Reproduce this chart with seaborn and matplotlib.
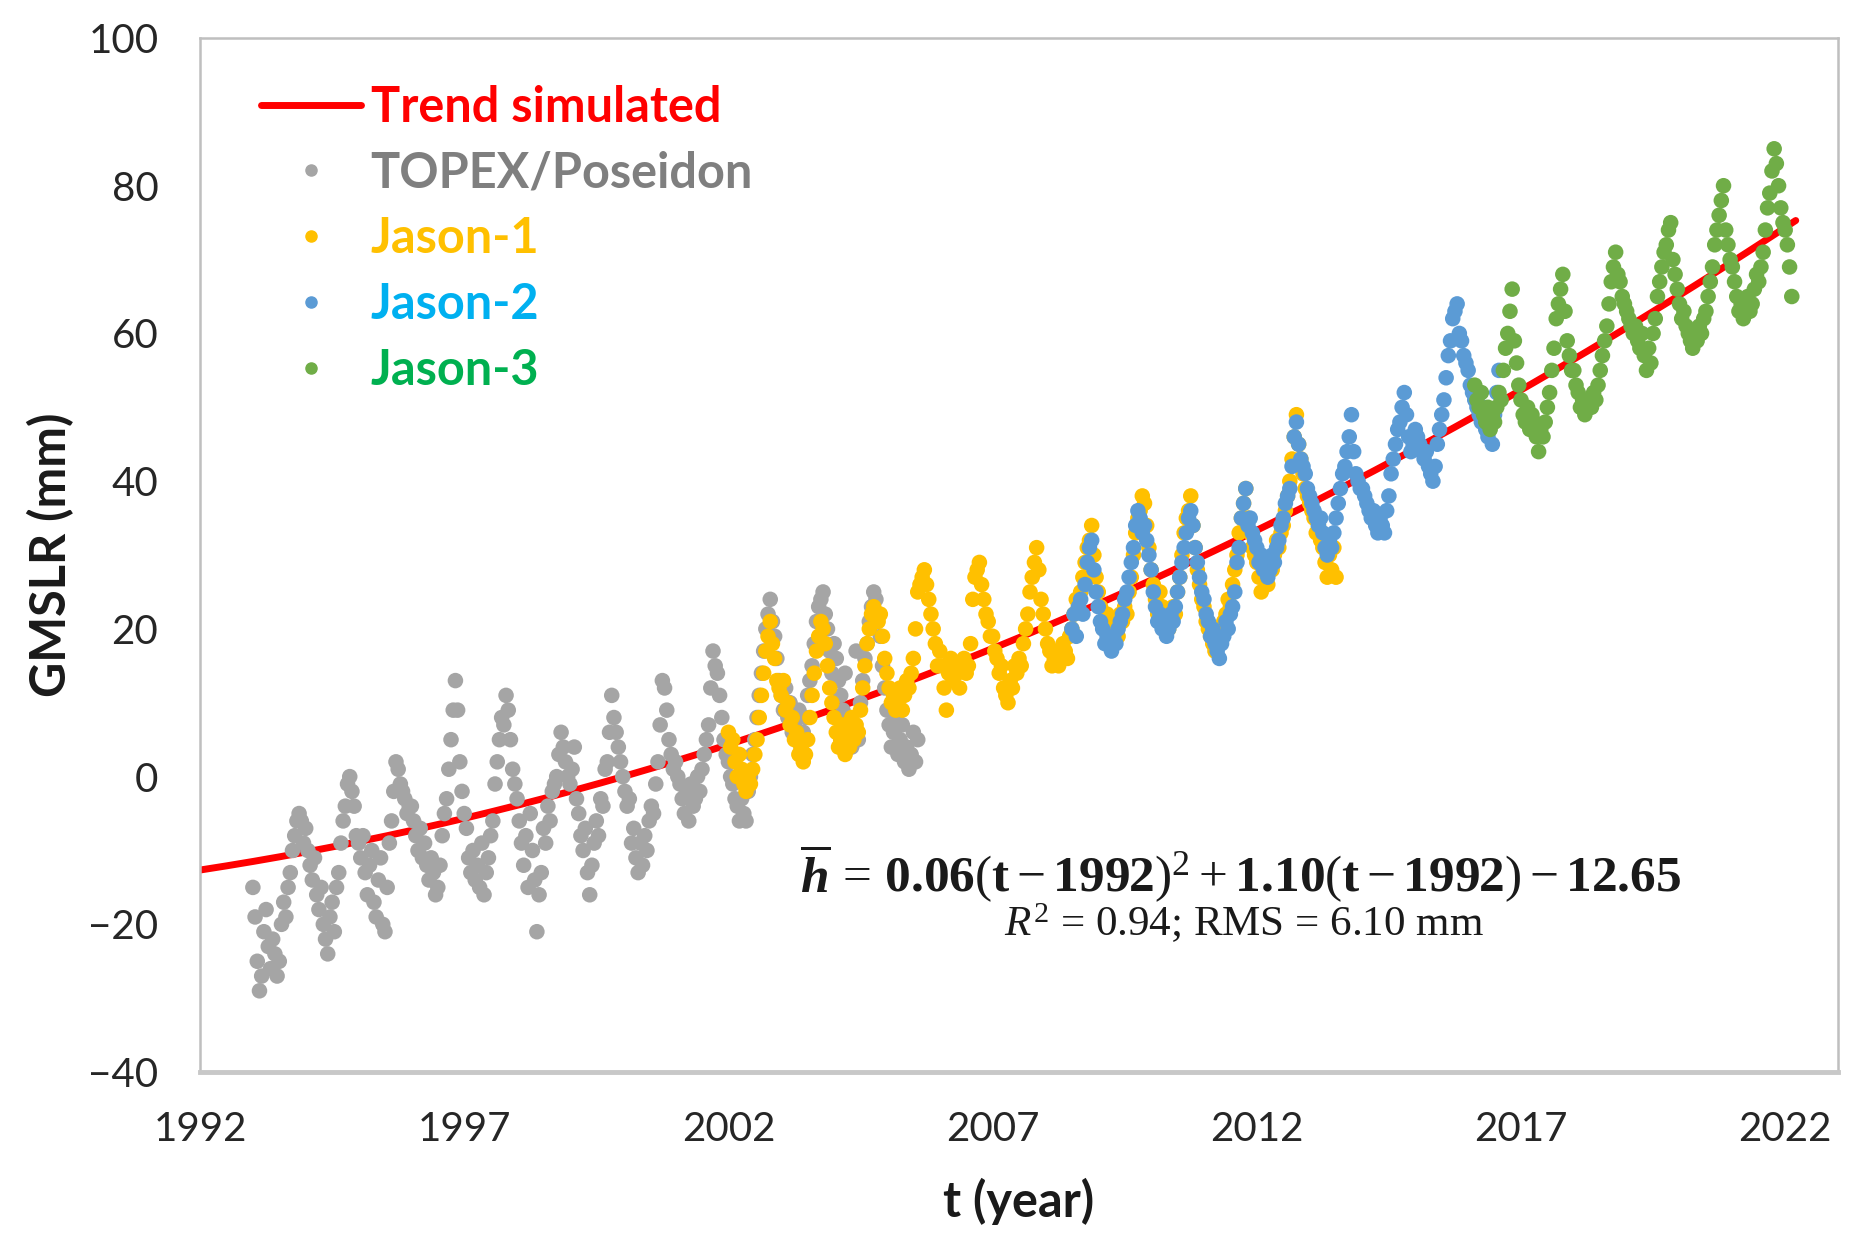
import numpy as np
import pandas as pd
import seaborn as sns
import matplotlib.pyplot as plt
from matplotlib.lines import Line2D

# GMSLR values in mm, one value every half month
topex_start = 1993.0
topex = [
    -15, -19, -25, -29, -27, -21, -18, -23, -26, -22, -24, -27, -25, -20, -17, -19, -15, -13, -10, -8, -6, -5, -6, -9,  # 1993
    -7, -10, -12, -14, -11, -16, -18, -15, -20, -22, -24, -19, -17, -21, -15, -13, -9, -6, -4, -1, 0, -2, -4, -8,  # 1994
    -9, -11, -8, -13, -16, -12, -10, -17, -19, -14, -11, -20, -21, -15, -9, -6, -2, 2, 1, -1, -2, -3, -5, -4,  # 1995
    -4, -6, -8, -10, -7, -11, -9, -12, -14, -11, -13, -16, -15, -12, -8, -5, -3, 1, 5, 9, 13, 9, 2, -2,  # 1996
    -5, -7, -11, -13, -10, -14, -12, -15, -9, -16, -13, -11, -8, -6, -1, 2, 5, 8, 7, 11, 9, 5, 1, -1,  # 1997
    -3, -6, -9, -12, -8, -15, -5, -10, -14, -21, -16, -13, -7, -9, -4, -6, -2, -1, 0, 3, 6, 4, 2, 0,  # 1998
    -1, 1, 4, -3, -5, -8, -10, -7, -13, -16, -12, -9, -6, -8, -3, -4, 1, 2, 6, 11, 8, 6, 4, 2,  # 1999
    0, -2, -4, -3, -9, -7, -11, -13, -9, -12, -8, -10, -6, -4, -5, -1, 2, 7, 13, 12, 9, 5, 3, 1,  # 2000
    2, 0, -1, -3, -5, -2, -6, -1, -4, -3, 0, -2, 1, 3, 5, 7, 12, 17, 15, 14, 11, 8, 5, 3,  # 2001
    2, 0, -1, -3, -4, -6, -3, -5, -6, -2, 0, 3, 5, 8, 11, 14, 17, 20, 22, 24, 21, 19, 16, 13,  # 2002
    11, 9, 12, 8, 10, 6, 7, 5, 9, 4, 6, 8, 11, 13, 15, 18, 21, 23, 24, 25, 22, 20, 17, 14,  # 2003
    18, 16, 13, 11, 9, 14, 6, 8, 4, 7, 17, 5, 10, 13, 16, 18, 21, 23, 25, 24, 22, 19, 15, 12,  # 2004
    9, 7, 4, 6, 8, 3, 5, 7, 2, 4, 1, 3, 6, 2, 5,  # 2005
]
jason1_start = 2002.0
jason1 = [
    6, 4, 5, 2, 0, 3, 1, -1, -2, 0, -1, 1, 3, 5, 8, 11, 14, 17, 19, 21, 18, 16, 13, 12,  # 2002
    11, 13, 9, 10, 7, 8, 5, 6, 3, 4, 2, 3, 5, 8, 11, 14, 17, 19, 21, 20, 18, 15, 12, 10,  # 2003
    8, 6, 4, 5, 7, 3, 6, 4, 8, 5, 7, 6, 9, 12, 15, 18, 20, 22, 23, 22, 21, 22, 19, 16,  # 2004
    14, 12, 10, 11, 9, 10, 12, 9, 11, 13, 12, 14, 16, 20, 25, 26, 27, 28, 26, 24, 22, 20, 18, 15,  # 2005
    17, 15, 12, 9, 14, 16, 13, 15, 14, 12, 15, 16, 14, 15, 18, 24, 27, 28, 29, 26, 24, 22, 21, 19,  # 2006
    19, 17, 16, 14, 15, 12, 11, 10, 13, 12, 15, 14, 16, 15, 18, 20, 22, 25, 27, 29, 31, 28, 24, 22,  # 2007
    20, 18, 17, 15, 16, 17, 15, 16, 18, 17, 16, 19, 20, 22, 24, 23, 25, 27, 29, 31, 32, 34, 30, 27,  # 2008
    25, 23, 21, 20, 22, 19, 18, 21, 20, 19, 22, 21, 23, 22, 25, 27, 30, 33, 35, 36, 38, 37, 34, 31,  # 2009
    28, 26, 24, 22, 25, 23, 21, 22, 20, 21, 23, 22, 25, 27, 30, 33, 35, 36, 38, 34, 31, 28, 26, 24,  # 2010
    23, 21, 20, 19, 18, 17, 19, 18, 20, 21, 22, 24, 23, 26, 28, 30, 33, 35, 37, 39, 35, 33, 31, 30,  # 2011
    29, 27, 25, 27, 28, 26, 29, 28, 30, 32, 31, 33, 34, 36, 38, 40, 43, 46, 49, 45, 43, 41, 39, 38,  # 2012
    37, 36, 35, 33, 34, 32, 31, 29, 27, 30, 28, 31, 27,  # 2013
]
jason2_start = 2008.5
jason2 = [
    20, 22, 19, 23, 24, 22, 26, 29, 31, 32, 28, 25,  # 2008
    23, 21, 20, 18, 19, 18, 17, 19, 18, 20, 21, 22, 24, 25, 27, 29, 31, 34, 36, 35, 33, 34, 32, 30,  # 2009
    28, 25, 23, 21, 22, 20, 21, 19, 20, 22, 21, 23, 25, 27, 29, 31, 33, 35, 36, 34, 31, 29, 27, 25,  # 2010
    24, 22, 21, 19, 20, 18, 17, 16, 18, 19, 21, 20, 22, 23, 25, 29, 31, 35, 37, 39, 34, 35, 33, 32,  # 2011
    31, 29, 30, 28, 29, 27, 28, 30, 29, 31, 32, 34, 35, 37, 38, 39, 42, 46, 48, 45, 43, 42, 41, 39,  # 2012
    38, 37, 36, 35, 34, 35, 33, 31, 30, 32, 31, 33, 35, 37, 39, 41, 42, 44, 46, 49, 44, 41, 40, 39,  # 2013
    39, 38, 37, 36, 35, 36, 34, 33, 35, 34, 33, 36, 38, 41, 43, 45, 47, 48, 50, 52, 49, 46, 44, 45,  # 2014
    47, 46, 45, 44, 43, 44, 42, 41, 40, 42, 45, 47, 49, 51, 54, 57, 59, 62, 63, 64, 60, 59, 57, 56,  # 2015
    55, 53, 52, 51, 50, 49, 48, 50, 47, 46, 48, 45, 49, 52, 55,  # 2016
]
jason3_start = 2016.125
jason3 = [
    53, 51, 50, 52, 49, 48, 50, 47, 49, 48, 50, 52, 51, 55, 58, 60, 63, 66, 59, 56, 53,  # 2016
    51, 49, 48, 50, 47, 49, 48, 46, 44, 47, 46, 48, 50, 52, 55, 58, 62, 64, 66, 68, 63, 59, 57, 55,  # 2017
    55, 53, 52, 50, 51, 49, 50, 51, 50, 52, 51, 53, 55, 57, 59, 61, 64, 67, 69, 71, 68, 67, 65, 64,  # 2018
    63, 62, 61, 60, 61, 59, 58, 60, 57, 55, 58, 56, 60, 62, 65, 67, 69, 71, 72, 74, 75, 70, 68, 66,  # 2019
    64, 62, 63, 61, 60, 59, 58, 60, 59, 61, 60, 62, 63, 65, 67, 69, 72, 74, 76, 78, 80, 74, 72, 70,  # 2020
    69, 67, 65, 63, 64, 62, 63, 65, 63, 64, 66, 68, 67, 69, 71, 74, 77, 79, 82, 85, 83, 80, 77, 75,  # 2021
    74, 72, 69, 65,  # 2022
]

# fitted trend printed on the chart: h = a(t-1992)^2 + b(t-1992) + c
trend_a, trend_b, trend_c = 0.06, 1.10, -12.65
trend_start, trend_end = 1992.0, 2022.2

missions = ["TOPEX/Poseidon", "Jason-1", "Jason-2", "Jason-3"]
dot_colors = ["#A5A5A5", "#FFC000", "#5B9BD5", "#70AD47"]
text_colors = ["#7F7F7F", "#FFC000", "#00B0F0", "#00B050"]

frames = []
for name, start, vals in zip(missions,
                             [topex_start, jason1_start, jason2_start, jason3_start],
                             [topex, jason1, jason2, jason3]):
    t = start + np.arange(len(vals)) / 24
    frames.append(pd.DataFrame({"t": t, "gmslr": vals, "mission": name}))
df = pd.concat(frames, ignore_index=True)

tt = np.linspace(trend_start, trend_end, 300)
trend = pd.DataFrame({"t": tt,
                      "h": trend_a * (tt - 1992) ** 2 + trend_b * (tt - 1992) + trend_c})

sns.set_theme(style="white")
plt.rcParams["font.family"] = ["Lato", "DejaVu Sans"]
plt.rcParams["mathtext.fontset"] = "custom"
plt.rcParams["mathtext.rm"] = "Liberation Serif"
plt.rcParams["mathtext.it"] = "Liberation Serif:italic"
plt.rcParams["mathtext.bf"] = "Liberation Serif:bold"
plt.rcParams["mathtext.bfit"] = "Liberation Serif:bold:italic"

fig = plt.figure(figsize=(18.66, 12.46), dpi=100)
ax = fig.add_axes([0.1072, 0.1396, 0.8778, 0.8299])

sns.lineplot(data=trend, x="t", y="h", color="#FF0000", lw=5, ax=ax, zorder=1)
sns.scatterplot(data=df, x="t", y="gmslr", hue="mission", hue_order=missions,
                palette=dot_colors, s=125, linewidth=0, legend=False, ax=ax, zorder=2)

ax.set_xlim(1992, 2023)
ax.set_ylim(-40, 100)
ax.set_xticks(range(1992, 2023, 5))
ax.set_xticks(range(1992, 2024), minor=True)
ax.set_yticks(range(-40, 101, 20))

ax.tick_params(axis="x", which="both", direction="inout", length=14, width=1.5,
               color="#BFBFBF", labelsize=29, pad=21, labelcolor="#262626")
ax.tick_params(axis="y", direction="in", length=10, width=1.5,
               color="#BFBFBF", labelsize=29, pad=30, labelcolor="#262626")
for side in ["left", "right", "top"]:
    ax.spines[side].set_color("#BFBFBF")
    ax.spines[side].set_linewidth(1.8)
ax.spines["bottom"].set_color("#C8C8C8")
ax.spines["bottom"].set_linewidth(3.5)

ax.set_xlabel("t (year)", fontsize=35, fontweight="bold", color="#1A1A1A")
ax.set_ylabel("GMSLR (mm)", fontsize=35, fontweight="bold", color="#1A1A1A")
ax.xaxis.set_label_coords(0.5, -0.102)
ax.yaxis.set_label_coords(-0.077, 0.5)

handles = [Line2D([], [], color="#FF0000", lw=5)]
handles += [Line2D([], [], marker="o", ls="", color=c, markersize=8) for c in dot_colors]
ax.legend(handles, ["Trend simulated"] + missions, loc="upper left",
          bbox_to_anchor=(0.037, 0.955), frameon=False,
          prop={"family": "Lato", "weight": "bold", "size": 35},
          labelcolor=["#FF0000"] + text_colors, handlelength=2.07,
          handletextpad=0.19, labelspacing=0.43, borderpad=0, borderaxespad=0)

ax.text(0.635, 0.192,
        r"$\overline{\mathbfit{h}}\,=\,\mathbf{0.06}(\mathbf{t}-\mathbf{1992})^2+\mathbf{1.10}(\mathbf{t}-\mathbf{1992})-\mathbf{12.65}$",
        transform=ax.transAxes, ha="center", va="center", fontsize=37, color="#1A1A1A")
ax.text(0.637, 0.144, r"$R^2$ = 0.94; RMS = 6.10 mm", family="Liberation Serif",
        transform=ax.transAxes, ha="center", va="center", fontsize=31, color="#1A1A1A")

fig.savefig("out.png", dpi=100)
